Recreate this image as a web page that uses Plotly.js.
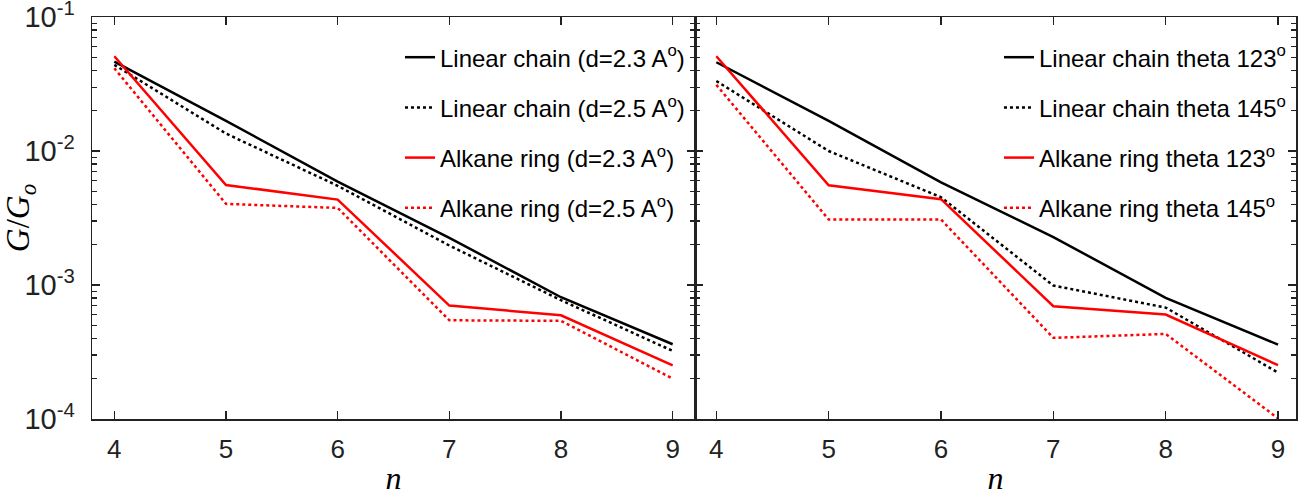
<!DOCTYPE html>
<html>
<head>
<meta charset="utf-8">
<script src="https://cdn.plot.ly/plotly-3.0.1.min.js"></script>
<style>html,body{margin:0;padding:0;background:#fff;}#chart{width:1308px;height:498px;}</style>
</head>
<body>
<div id="chart"></div>
<script>
// Data
const n = [4, 5, 6, 7, 8, 9];

// Left panel: bond length d
const linearD23 = [0.0465, 0.0168, 0.0059, 0.00225, 0.00081, 0.000361];
const linearD25 = [0.0440, 0.0135, 0.0055, 0.00197, 0.00077, 0.000322];
const alkaneD23 = [0.0510, 0.00558, 0.00434, 0.000702, 0.000594, 0.000251];
const alkaneD25 = [0.0415, 0.00403, 0.00376, 0.000545, 0.000540, 0.000200];

// Right panel: angle theta
const linearT123 = [0.0460, 0.0168, 0.00584, 0.00228, 0.00080, 0.000359];
const linearT145 = [0.0333, 0.0100, 0.00452, 0.00099, 0.000678, 0.000222];
const alkaneT123 = [0.0510, 0.00555, 0.00437, 0.000694, 0.000601, 0.000252];
const alkaneT145 = [0.0312, 0.00308, 0.00308, 0.000403, 0.000431, 0.000101];

const leftNames = ['Linear chain (d=2.3 A<sup>o</sup>)', 'Linear chain (d=2.5 A<sup>o</sup>)',
                   'Alkane ring (d=2.3 A<sup>o</sup>)', 'Alkane ring (d=2.5 A<sup>o</sup>)'];
const rightNames = ['Linear chain theta 123<sup>o</sup>', 'Linear chain theta 145<sup>o</sup>',
                    'Alkane ring theta 123<sup>o</sup>', 'Alkane ring theta 145<sup>o</sup>'];

const yTickVals = [1e-4, 1e-3, 1e-2, 1e-1];
const yTickText = ['10<sup>-4</sup>', '10<sup>-3</sup>', '10<sup>-2</sup>', '10<sup>-1</sup>'];
const xTickVals = [4, 5, 6, 7, 8, 9];

const styles = [
  {color: '#000000', dash: 'solid'},
  {color: '#000000', dash: 'dot'},
  {color: '#ff0000', dash: 'solid'},
  {color: '#ff0000', dash: 'dot'}
];

const FONT = 'Liberation Sans Narrow, Liberation Sans, Arial, sans-serif';
const SERIF = 'Liberation Serif, Times New Roman, serif';

const traces = [];
[linearD23, linearD25, alkaneD23, alkaneD25].forEach((ys, i) => {
  traces.push({x: n, y: ys, mode: 'lines', name: leftNames[i], xaxis: 'x', yaxis: 'y',
    legend: 'legend', legendgroup: 'L' + i,
    line: {color: styles[i].color, dash: styles[i].dash, width: 2.5}});
});
[linearT123, linearT145, alkaneT123, alkaneT145].forEach((ys, i) => {
  traces.push({x: n, y: ys, mode: 'lines', name: rightNames[i], xaxis: 'x2', yaxis: 'y2',
    legend: 'legend2', legendgroup: 'R' + i,
    line: {color: styles[i].color, dash: styles[i].dash, width: 2.5}});
});

const axisCommon = {
  showline: true, linecolor: '#222', linewidth: 1.5, mirror: 'ticks',
  ticks: 'inside', ticklen: 8, tickwidth: 1.2, tickcolor: '#222',
  showgrid: false, zeroline: false,
  tickfont: {family: FONT, size: 26, color: '#222'}
};

const dom = (695 - 92) / (1308 - 92 - 12);

const layout = {
  width: 1308, height: 498,
  margin: {l: 92, r: 12, t: 17, b: 79},
  paper_bgcolor: '#fff', plot_bgcolor: '#fff',
  showlegend: true,
  font: {family: FONT, color: '#000'},
  xaxis: Object.assign({}, axisCommon, {
    domain: [0, dom], range: [3.8, 9.2], tickvals: xTickVals, anchor: 'y',
    ticklabelstandoff: 6,
    title: {text: '<i>n</i>', font: {family: SERIF, size: 32, color: '#000'}, standoff: 4}
  }),
  xaxis2: Object.assign({}, axisCommon, {
    domain: [dom, 1], range: [3.81, 9.16], tickvals: xTickVals, anchor: 'y2',
    ticklabelstandoff: 6,
    title: {text: '<i>n</i>', font: {family: SERIF, size: 32, color: '#000'}, standoff: 4}
  }),
  yaxis: Object.assign({}, axisCommon, {
    type: 'log', range: [-4.0005, -0.9995], anchor: 'x',
    tickvals: yTickVals, ticktext: yTickText,
    ticklabeloverflow: 'allow',
    minor: {ticks: 'inside', ticklen: 5, tickcolor: '#222', dtick: 'D1', showgrid: false},
    tickfont: {family: FONT, size: 29, color: '#222'},
    ticklabelstandoff: 10,
    title: {text: '<i>G</i>/<i>G<sub>o</sub></i>', font: {family: SERIF, size: 33, color: '#000'}, standoff: 2}
  }),
  yaxis2: Object.assign({}, axisCommon, {
    type: 'log', range: [-4.0005, -0.9995], anchor: 'x2',
    tickvals: yTickVals, ticktext: yTickText, showticklabels: false,
    minor: {ticks: 'inside', ticklen: 5, tickcolor: '#222', dtick: 'D1', showgrid: false}
  }),
  legend: {
    x: 0.2558, y: 0.955, xanchor: 'left', yanchor: 'top',
    xref: 'paper', yref: 'paper',
    bgcolor: 'rgba(0,0,0,0)', borderwidth: 0,
    font: {family: FONT, size: 24, color: '#000'},
    traceorder: 'grouped', tracegroupgap: 16, itemwidth: 30
  },
  legend2: {
    x: 0.7533, y: 0.955, xanchor: 'left', yanchor: 'top',
    xref: 'paper', yref: 'paper',
    bgcolor: 'rgba(0,0,0,0)', borderwidth: 0,
    font: {family: FONT, size: 24, color: '#000'},
    traceorder: 'grouped', tracegroupgap: 16, itemwidth: 30
  }
};

Plotly.newPlot('chart', traces, layout, {displayModeBar: false, staticPlot: true});
</script>
</body>
</html>
